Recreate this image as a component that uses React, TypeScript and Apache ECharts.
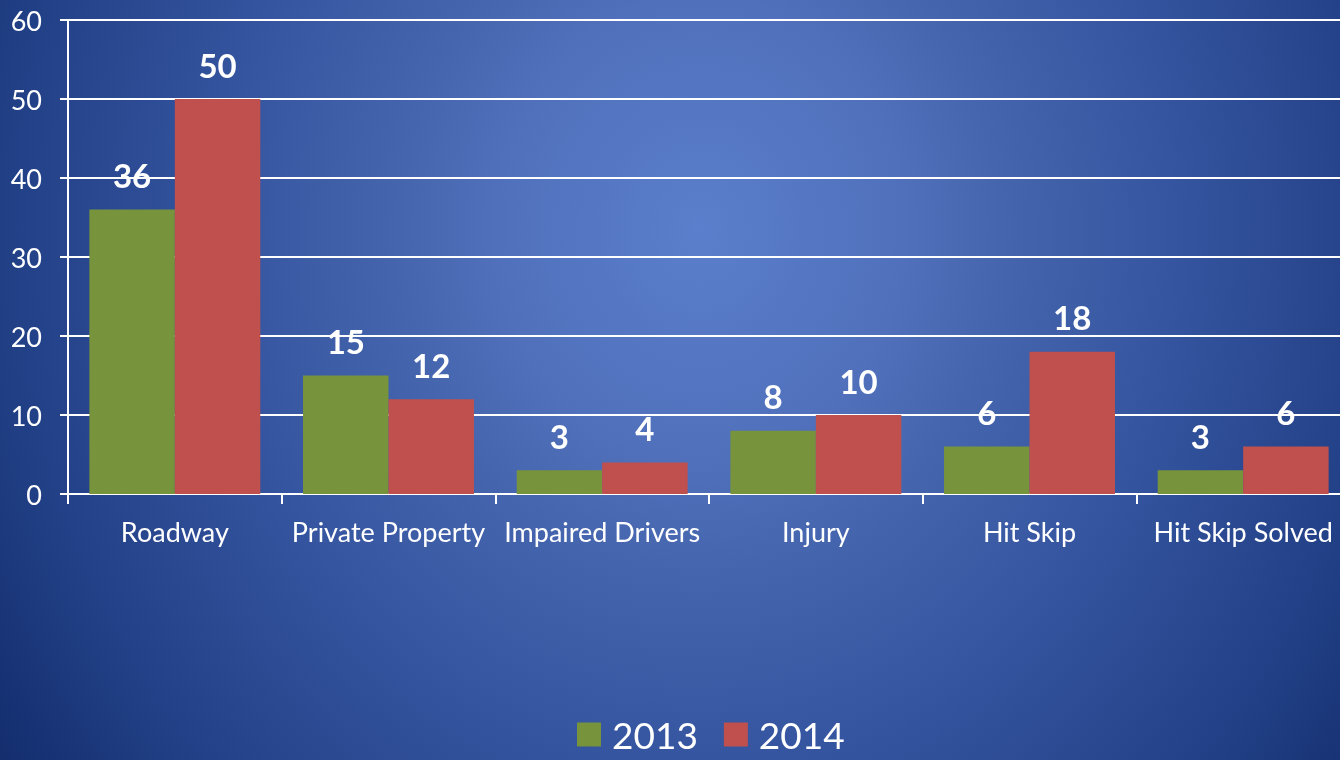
import React, { useEffect, useRef } from "react";
import * as echarts from "echarts";

const categories = ["Roadway", "Private Property", "Impaired Drivers", "Injury", "Hit Skip", "Hit Skip Solved"];
const values2013 = [36, 15, 3, 8, 6, 3];
const values2014 = [50, 12, 4, 10, 18, 6];
const seriesNames = ["2013", "2014"];

const FONT = "Lato, 'Open Sans', sans-serif";

const BG =
  "radial-gradient(800px 900px at 700px 230px, #5b7fcc 0%, #5070bb 25.6%, #4565ae 37.6%, #3555a0 59%, #213f85 87.5%, #142e6e 105%)";

export default function App() {
  const ref = useRef<HTMLDivElement>(null);
  useEffect(() => {
    if (!ref.current) return;
    const chart = echarts.init(ref.current, undefined, { renderer: "svg" });
    const label = {
      show: true,
      position: "top",
      distance: 18,
      color: "#ffffff",
      fontSize: 33,
      fontWeight: "bold",
      fontFamily: FONT,
    };
    chart.setOption({
      animation: false,
      backgroundColor: "transparent",
      textStyle: { fontFamily: FONT },
      grid: { left: 68, right: 0, top: 20, bottom: 266, containLabel: false },
      legend: {
        data: seriesNames,
        left: 577,
        top: 716,
        padding: 0,
        itemWidth: 24,
        itemHeight: 24,
        itemGap: 26,
        icon: "rect",
        textStyle: { color: "#ffffff", fontSize: 37, fontFamily: FONT, padding: [0, 0, 0, 6] },
      },
      xAxis: {
        type: "category",
        data: categories,
        axisLine: { show: true, lineStyle: { color: "#ffffff", width: 2 } },
        axisTick: { show: true, length: 10, interval: 0, lineStyle: { color: "#ffffff", width: 2 } },
        axisLabel: { color: "#ffffff", fontSize: 27, margin: 24, interval: 0, fontFamily: FONT },
      },
      yAxis: {
        type: "value",
        min: 0,
        max: 60,
        interval: 10,
        axisLine: { show: true, lineStyle: { color: "#ffffff", width: 2 } },
        axisTick: { show: true, length: 8, lineStyle: { color: "#ffffff", width: 2 } },
        axisLabel: { color: "#ffffff", fontSize: 27, margin: 26, fontFamily: FONT },
        splitLine: { show: true, lineStyle: { color: "#ffffff", width: 2 } },
      },
      series: [
        {
          name: seriesNames[0],
          type: "bar",
          data: values2013,
          itemStyle: { color: "#77933c" },
          barGap: "0%",
          barCategoryGap: "20%",
          label,
        },
        {
          name: seriesNames[1],
          type: "bar",
          data: values2014,
          itemStyle: { color: "#c0504d" },
          barGap: "0%",
          barCategoryGap: "20%",
          label,
        },
      ],
    });
    return () => chart.dispose();
  }, []);
  return (
    <div
      style={{
        position: "fixed",
        left: 0,
        top: 0,
        width: 1340,
        height: 760,
        overflow: "hidden",
        background: BG,
      }}
    >
      <div ref={ref} style={{ position: "absolute", left: 0, top: 0, width: 1350, height: 760 }} />
    </div>
  );
}
